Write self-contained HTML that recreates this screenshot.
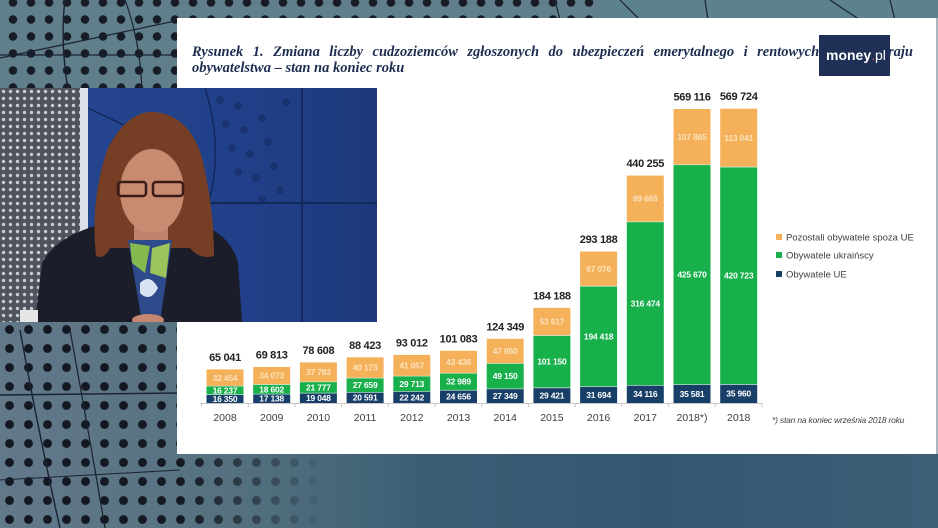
<!DOCTYPE html>
<html><head><meta charset="utf-8">
<style>
*{margin:0;padding:0;box-sizing:border-box}
html,body{width:938px;height:528px;overflow:hidden}
body{position:relative;background:#4d6f80;font-family:"Liberation Sans",sans-serif}
.abs{position:absolute}
.dots{background-color:#607f8b;background-image:radial-gradient(circle,#161b26 3.8px,rgba(0,0,0,0) 4.6px);background-size:18px 17px}
#title{left:192px;width:721px;font-family:"Liberation Serif",serif;font-weight:bold;font-style:italic;font-size:14.5px;line-height:16px;color:#1c2d4f}
</style></head><body>

<!-- background regions -->
<div class="abs" style="left:0;top:0;width:938px;height:20px;background:#5d828f"></div>
<div class="abs dots" style="left:0;top:0;width:600px;height:20px;background-position:4px -6px"></div>
<div class="abs dots" style="left:0;top:0;width:180px;height:90px;background-position:4px -6px"></div>
<div class="abs" style="left:0;top:320px;width:938px;height:208px;background:linear-gradient(90deg,#62798a 0%,#55717f 25%,#3c5e75 45%,#335770 70%,#3d5f76 100%)"></div>
<div class="abs" style="left:0;top:320px;width:330px;height:208px;background-image:radial-gradient(circle,#141822 4px,rgba(0,0,0,0) 4.8px);background-size:19px 19px;-webkit-mask-image:linear-gradient(90deg,#000 55%,rgba(0,0,0,0) 100%);mask-image:linear-gradient(90deg,#000 55%,rgba(0,0,0,0) 100%)"></div>
<svg class="abs" style="left:0;top:0" width="938" height="528">
 <path d="M0 58 L180 20" stroke="#1a2230" stroke-width="1.2" fill="none"/>
 <path d="M0 55 L180 55" stroke="#1a2230" stroke-width="1.2" fill="none"/>
 <path d="M65 0 Q60 40 68 90" stroke="#1a2230" stroke-width="1.4" fill="none"/>
 <path d="M125 0 Q140 40 142 90" stroke="#1a2230" stroke-width="1.2" fill="none"/>
 <path d="M0 395 L180 393" stroke="#1a2230" stroke-width="1.4" fill="none"/>
 <path d="M20 330 Q40 440 60 528" stroke="#1a2230" stroke-width="1.4" fill="none"/>
 <path d="M70 330 Q90 440 105 528" stroke="#1a2230" stroke-width="1.2" fill="none"/>
 <path d="M0 480 L180 470" stroke="#1a2230" stroke-width="1" fill="none"/>
 <path d="M555 0 L560 20 M620 0 L640 20 M705 0 L708 20 M830 0 L860 20 M890 0 L895 20" stroke="#1a2230" stroke-width="1.2" fill="none"/>
</svg>

<!-- white panel -->
<div class="abs" style="left:177px;top:18px;width:759px;height:436px;background:#fff"></div>
<div class="abs" style="left:936px;top:18px;width:2px;height:436px;background:#a9b6bd"></div>

<!-- title -->
<div id="title" class="abs" style="top:44px;text-align:justify;text-align-last:justify">Rysunek 1. Zmiana liczby cudzoziemców zgłoszonych do ubezpieczeń emerytalnego i rentowych według kraju</div>
<div class="abs" style="left:192px;top:60px;font-family:'Liberation Serif',serif;font-weight:bold;font-style:italic;font-size:14.5px;line-height:16px;color:#1c2d4f;white-space:nowrap">obywatelstwa – stan na koniec roku</div>

<!-- logo -->
<div class="abs" style="left:819px;top:35px;width:71px;height:41px;background:#1f2f55"></div>
<div class="abs" style="left:826px;top:46px;color:#fff;font-size:14px;line-height:18px;white-space:nowrap"><b>money</b><span style="color:#e8505b">.</span><span style="font-weight:normal">pl</span></div>

<!-- chart -->
<svg class="abs" style="left:0;top:0" width="938" height="528" font-family="Liberation Sans, sans-serif">
 <line x1="200" y1="403.5" x2="762" y2="403.5" stroke="#c8c8c8" stroke-width="1"/>
 <g stroke="#c8c8c8" stroke-width="1">
  <line x1="201.6" y1="403" x2="201.6" y2="407"/><line x1="248.3" y1="403" x2="248.3" y2="407"/><line x1="295" y1="403" x2="295" y2="407"/><line x1="341.7" y1="403" x2="341.7" y2="407"/><line x1="388.4" y1="403" x2="388.4" y2="407"/><line x1="435.1" y1="403" x2="435.1" y2="407"/><line x1="481.8" y1="403" x2="481.8" y2="407"/><line x1="528.5" y1="403" x2="528.5" y2="407"/><line x1="575.2" y1="403" x2="575.2" y2="407"/><line x1="621.9" y1="403" x2="621.9" y2="407"/><line x1="668.6" y1="403" x2="668.6" y2="407"/><line x1="715.3" y1="403" x2="715.3" y2="407"/><line x1="762" y1="403" x2="762" y2="407"/>
 </g>
 <!-- EU navy -->
 <g fill="#173f68">
  <rect x="206.5" y="394.55" width="37" height="8.45"/>
  <rect x="253.2" y="394.15" width="37" height="8.85"/>
  <rect x="299.9" y="393.16" width="37" height="9.84"/>
  <rect x="346.6" y="392.36" width="37" height="10.64"/>
  <rect x="393.3" y="391.51" width="37" height="11.49"/>
  <rect x="440" y="390.26" width="37" height="12.74"/>
  <rect x="486.7" y="388.87" width="37" height="14.13"/>
  <rect x="533.4" y="387.8" width="37" height="15.2"/>
  <rect x="580.1" y="386.63" width="37" height="16.37"/>
  <rect x="626.8" y="385.38" width="37" height="17.62"/>
  <rect x="673.5" y="384.62" width="37" height="18.38"/>
  <rect x="720.2" y="384.42" width="37" height="18.58"/>
 </g>
 <!-- UA green -->
 <g fill="#17b04a">
  <rect x="206.5" y="386.16" width="37" height="8.39"/>
  <rect x="253.2" y="384.54" width="37" height="9.61"/>
  <rect x="299.9" y="381.91" width="37" height="11.25"/>
  <rect x="346.6" y="378.07" width="37" height="14.29"/>
  <rect x="393.3" y="376.16" width="37" height="15.35"/>
  <rect x="440" y="373.22" width="37" height="17.04"/>
  <rect x="486.7" y="363.48" width="37" height="25.39"/>
  <rect x="533.4" y="335.55" width="37" height="52.25"/>
  <rect x="580.1" y="286.19" width="37" height="100.44"/>
  <rect x="626.8" y="221.89" width="37" height="163.49"/>
  <rect x="673.5" y="164.72" width="37" height="219.9"/>
  <rect x="720.2" y="167.07" width="37" height="217.35"/>
 </g>
 <!-- Other orange -->
 <g fill="#f4b15a">
  <rect x="206.5" y="369.39" width="37" height="16.77"/>
  <rect x="253.2" y="366.94" width="37" height="17.6"/>
  <rect x="299.9" y="362.39" width="37" height="19.52"/>
  <rect x="346.6" y="357.32" width="37" height="20.75"/>
  <rect x="393.3" y="354.95" width="37" height="21.21"/>
  <rect x="440" y="350.78" width="37" height="22.44"/>
  <rect x="486.7" y="338.76" width="37" height="24.72"/>
  <rect x="533.4" y="307.85" width="37" height="27.7"/>
  <rect x="580.1" y="251.54" width="37" height="34.65"/>
  <rect x="626.8" y="175.57" width="37" height="46.32"/>
  <rect x="673.5" y="109" width="37" height="55.72"/>
  <rect x="720.2" y="108.67" width="37" height="58.4"/>
 </g>
 <!-- separators -->
 <g stroke="#d8efe0" stroke-width="0.8" opacity="0.8">
  <line x1="206.5" x2="243.5" y1="394.55" y2="394.55"/><line x1="206.5" x2="243.5" y1="386.16" y2="386.16"/>
  <line x1="253.2" x2="290.2" y1="394.15" y2="394.15"/><line x1="253.2" x2="290.2" y1="384.54" y2="384.54"/>
  <line x1="299.9" x2="336.9" y1="393.16" y2="393.16"/><line x1="299.9" x2="336.9" y1="381.91" y2="381.91"/>
  <line x1="346.6" x2="383.6" y1="392.36" y2="392.36"/><line x1="346.6" x2="383.6" y1="378.07" y2="378.07"/>
  <line x1="393.3" x2="430.3" y1="391.51" y2="391.51"/><line x1="393.3" x2="430.3" y1="376.16" y2="376.16"/>
  <line x1="440" x2="477" y1="390.26" y2="390.26"/><line x1="440" x2="477" y1="373.22" y2="373.22"/>
  <line x1="486.7" x2="523.7" y1="388.87" y2="388.87"/><line x1="486.7" x2="523.7" y1="363.48" y2="363.48"/>
  <line x1="533.4" x2="570.4" y1="387.8" y2="387.8"/><line x1="533.4" x2="570.4" y1="335.55" y2="335.55"/>
  <line x1="580.1" x2="617.1" y1="386.63" y2="386.63"/><line x1="580.1" x2="617.1" y1="286.19" y2="286.19"/>
  <line x1="626.8" x2="663.8" y1="385.38" y2="385.38"/><line x1="626.8" x2="663.8" y1="221.89" y2="221.89"/>
  <line x1="673.5" x2="710.5" y1="384.62" y2="384.62"/><line x1="673.5" x2="710.5" y1="164.72" y2="164.72"/>
  <line x1="720.2" x2="757.2" y1="384.42" y2="384.42"/><line x1="720.2" x2="757.2" y1="167.07" y2="167.07"/>
 </g>
 <!-- totals -->
 <g font-size="11" font-weight="bold" fill="#222" text-anchor="middle" letter-spacing="-0.3">
  <text x="225" y="360.9">65 041</text>
  <text x="271.7" y="358.4">69 813</text>
  <text x="318.4" y="353.9">78 608</text>
  <text x="365.1" y="348.8">88 423</text>
  <text x="411.8" y="346.5">93 012</text>
  <text x="458.5" y="342.3">101 083</text>
  <text x="505.2" y="330.3">124 349</text>
  <text x="551.9" y="299.4">184 188</text>
  <text x="598.6" y="243">293 188</text>
  <text x="645.3" y="167.1">440 255</text>
  <text x="692" y="100.5">569 116</text>
  <text x="738.7" y="100.2">569 724</text>
 </g>
 <!-- inner labels -->
 <g font-size="8.5" font-weight="bold" fill="#ffffff" text-anchor="middle" letter-spacing="-0.2">
  <text x="225" y="401.8">16 350</text><text x="225" y="393.4">16 237</text>
  <text x="271.7" y="401.6">17 138</text><text x="271.7" y="392.3">18 602</text>
  <text x="318.4" y="401.1">19 048</text><text x="318.4" y="390.5">21 777</text>
  <text x="365.1" y="400.7">20 591</text><text x="365.1" y="388.2">27 659</text>
  <text x="411.8" y="400.3">22 242</text><text x="411.8" y="386.8">29 713</text>
  <text x="458.5" y="399.6">24 656</text><text x="458.5" y="384.7">32 989</text>
  <text x="505.2" y="398.9">27 349</text><text x="505.2" y="379.2">49 150</text>
  <text x="551.9" y="398.4">29 421</text><text x="551.9" y="364.7">101 150</text>
  <text x="598.6" y="397.8">31 694</text><text x="598.6" y="339.4">194 418</text>
  <text x="645.3" y="397.2">34 116</text><text x="645.3" y="306.6">316 474</text>
  <text x="692" y="396.8">35 581</text><text x="692" y="277.7">425 670</text>
  <text x="738.7" y="396.7">35 960</text><text x="738.7" y="278.7">420 723</text>
 </g>
 <g font-size="8.5" font-weight="bold" fill="#fbe2bd" text-anchor="middle" letter-spacing="-0.2">
  <text x="225" y="380.8">32 454</text>
  <text x="271.7" y="378.7">34 073</text>
  <text x="318.4" y="375.2">37 783</text>
  <text x="365.1" y="370.7">40 173</text>
  <text x="411.8" y="368.6">41 057</text>
  <text x="458.5" y="365">43 438</text>
  <text x="505.2" y="354.1">47 850</text>
  <text x="551.9" y="324.7">53 617</text>
  <text x="598.6" y="271.9">67 076</text>
  <text x="645.3" y="201.7">89 665</text>
  <text x="692" y="139.8">107 865</text>
  <text x="738.7" y="140.9">113 041</text>
 </g>
 <!-- years -->
 <g font-size="10.5" fill="#404040" text-anchor="middle">
  <text x="225" y="421">2008</text><text x="271.7" y="421">2009</text><text x="318.4" y="421">2010</text><text x="365.1" y="421">2011</text><text x="411.8" y="421">2012</text><text x="458.5" y="421">2013</text><text x="505.2" y="421">2014</text><text x="551.9" y="421">2015</text><text x="598.6" y="421">2016</text><text x="645.3" y="421">2017</text><text x="692" y="421">2018*)</text><text x="738.7" y="421">2018</text>
 </g>
 <!-- legend -->
 <rect x="776" y="234" width="6" height="6" fill="#f4b15a"/>
 <rect x="776" y="252" width="6" height="6" fill="#17b04a"/>
 <rect x="776" y="271" width="6" height="6" fill="#173f68"/>
 <g font-size="9.5" fill="#404040">
  <text x="786" y="240.5">Pozostali obywatele spoza UE</text>
  <text x="786" y="258.5">Obywatele ukraińscy</text>
  <text x="786" y="277.5">Obywatele UE</text>
 </g>
 <text x="772" y="423" font-size="8.5" font-style="italic" fill="#404040" letter-spacing="-0.2">*) stan na koniec września 2018 roku</text>
</svg>

<!-- video inset -->
<div class="abs" style="left:0;top:88px;width:377px;height:234px;overflow:hidden;background:#203f84">
 <div class="abs" style="left:0;top:0;width:80px;height:234px;background-color:#4e535e;background-image:radial-gradient(circle,#c9ced6 1.4px,rgba(0,0,0,0) 2px);background-size:7px 7px"></div>
 <div class="abs" style="left:80px;top:0;width:8px;height:234px;background:#dde2ea"></div>
 <div class="abs" style="left:88px;top:0;width:289px;height:234px;background:linear-gradient(90deg,#24458e 0%,#21408a 50%,#1d3a7c 100%)"></div>
 <svg class="abs" style="left:0;top:0" width="377" height="234">
  <g fill="#152a5e" opacity="0.55">
   <circle cx="220" cy="12" r="4"/><circle cx="238" cy="18" r="4"/><circle cx="226" cy="36" r="4"/><circle cx="244" cy="42" r="4"/><circle cx="262" cy="30" r="4"/><circle cx="232" cy="60" r="4"/><circle cx="250" cy="66" r="4"/><circle cx="268" cy="54" r="4"/><circle cx="238" cy="84" r="4"/><circle cx="256" cy="90" r="4"/><circle cx="274" cy="78" r="4"/><circle cx="280" cy="102" r="4"/><circle cx="262" cy="112" r="4"/><circle cx="286" cy="14" r="4"/>
  </g>
  <path d="M302 0 L302 234" stroke="#14285a" stroke-width="2"/>
  <path d="M200 115 L377 115" stroke="#14285a" stroke-width="2"/>
  <path d="M205 0 Q230 80 195 150" stroke="#14285a" stroke-width="1.5" fill="none"/>
  <path d="M88 20 L130 40" stroke="#14285a" stroke-width="1.5" fill="none"/>
  <!-- jacket -->
  <path d="M35 234 L42 175 Q55 150 95 138 L120 132 L180 132 L205 138 Q232 150 238 175 L242 234 Z" fill="#1b1e28"/>
  <!-- hair -->
  <path d="M96 168 Q90 110 108 60 Q128 22 155 24 Q190 28 202 70 Q214 120 214 168 Q200 172 190 160 L110 160 Q104 172 96 168 Z" fill="#773e26"/>
  <!-- neck -->
  <rect x="134" y="130" width="34" height="30" fill="#bf826c"/>
  <!-- face -->
  <ellipse cx="152" cy="103" rx="32" ry="42" fill="#c98a72"/>
  <path d="M120 70 Q150 45 185 72 L185 60 Q152 30 118 60 Z" fill="#773e26"/>
  <!-- glasses -->
  <rect x="118" y="94" width="28" height="14" rx="3" fill="none" stroke="#3a1c16" stroke-width="2.5"/>
  <rect x="153" y="94" width="30" height="14" rx="3" fill="none" stroke="#3a1c16" stroke-width="2.5"/>
  <!-- blouse -->
  <path d="M128 152 L172 152 L160 234 L142 234 Z" fill="#2d4a8a"/>
  <path d="M130 155 L150 158 L145 185 L132 175 Z" fill="#86b94e"/>
  <path d="M152 160 L170 155 L166 190 L150 185 Z" fill="#9cc45a"/>
  <path d="M140 195 Q150 185 158 200 Q150 215 140 205 Z" fill="#d9e3f2"/>
  <!-- hands -->
  <ellipse cx="148" cy="232" rx="16" ry="6" fill="#c48670"/>
  <rect x="20" y="222" width="18" height="12" fill="#e6e6e6"/>
 </svg>
</div>

</body></html>
